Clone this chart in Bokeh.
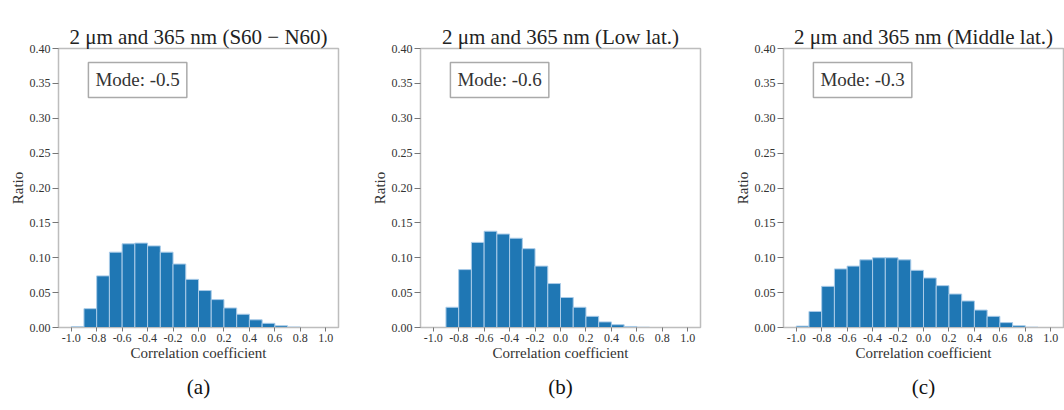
from bokeh.plotting import figure
from bokeh.layouts import row
from bokeh.models import Label, Title, FixedTicker, Range1d
from bokeh.embed import file_html
from bokeh.resources import INLINE

bin_edges = [round(-1.0 + 0.1 * i, 1) for i in range(21)]

ratio_a = [0.001, 0.027, 0.074, 0.108, 0.120, 0.121, 0.117, 0.108, 0.091, 0.069,
           0.053, 0.040, 0.028, 0.019, 0.011, 0.006, 0.0025, 0.0007, 0.0, 0.0]
ratio_b = [0.0, 0.029, 0.083, 0.122, 0.138, 0.134, 0.128, 0.113, 0.088, 0.063,
           0.043, 0.029, 0.016, 0.008, 0.004, 0.0015, 0.0004, 0.0, 0.0, 0.0]
ratio_c = [0.002, 0.023, 0.059, 0.084, 0.088, 0.097, 0.100, 0.100, 0.097, 0.082,
           0.071, 0.060, 0.048, 0.038, 0.025, 0.016, 0.007, 0.0025, 0.0005, 0.0]

titles = ["2 \u03bcm and 365 nm (S60 \u2212 N60)",
          "2 \u03bcm and 365 nm (Low lat.)",
          "2 \u03bcm and 365 nm (Middle lat.)"]
modes = ["Mode: -0.5", "Mode: -0.6", "Mode: -0.3"]
captions = ["(a)", "(b)", "(c)"]
x_ticks = [round(-1.0 + 0.2 * i, 1) for i in range(11)]
y_ticks = [round(0.05 * i, 2) for i in range(9)]

SERIF = "Liberation Serif"
borders = [(58, 29), (53, 30), (53, 1)]


def make(i, vals):
    L, R = borders[i]
    p = figure(frame_width=280, frame_height=279, min_border_left=L,
               min_border_right=R, min_border_top=48, min_border_bottom=83,
               x_range=Range1d(-1.1, 1.1), y_range=Range1d(0, 0.40),
               output_backend="svg", toolbar_location=None,
               background_fill_color="white", border_fill_color="white")
    p.title.text = titles[i]
    p.title.align = "center"
    p.title.text_font = SERIF
    p.title.text_font_size = "21px"
    p.title.text_font_style = "normal"
    p.title.text_color = "#222222"
    p.title.standoff = 0
    p.quad(left=bin_edges[:-1], right=bin_edges[1:], bottom=0, top=vals,
           fill_color="#1f77b4", line_color="#a9cbe8", line_width=1)
    p.grid.visible = False
    p.outline_line_color = "#bdbdbd"
    p.outline_line_width = 1.5
    for ax in (p.xaxis[0], p.yaxis[0]):
        ax.axis_line_color = "#bdbdbd"
        ax.major_tick_line_color = "#777777"
        ax.minor_tick_line_color = None
        ax.major_tick_in = 0
        ax.major_label_text_font = SERIF
        ax.major_label_text_font_size = "12px"
        ax.major_label_text_color = "#333333"
        ax.axis_label_text_font = SERIF
        ax.axis_label_text_font_size = "15px"
        ax.axis_label_text_font_style = "normal"
        ax.axis_label_text_color = "#333333"
    p.xaxis.ticker = FixedTicker(ticks=x_ticks)
    p.xaxis.major_label_overrides = {t: f"{t:.1f}" for t in x_ticks}
    p.xaxis.major_tick_out = 4
    p.xaxis.major_label_standoff = 2
    p.xaxis.axis_label = "Correlation coefficient"
    p.xaxis.axis_label_standoff = 0
    p.yaxis.ticker = FixedTicker(ticks=y_ticks)
    p.yaxis.major_label_overrides = {t: f"{t:.2f}" for t in y_ticks}
    p.yaxis.major_tick_out = 6
    p.yaxis.major_label_standoff = 2
    p.yaxis.axis_label = "Ratio"
    p.yaxis.axis_label_standoff = 1
    p.add_layout(Label(x=-0.865, y=0.38, text=modes[i], anchor="top_left",
                       text_font=SERIF, text_font_size="19px", text_color="#333333",
                       padding=7, border_line_color="#aaaaaa", border_line_width=1.5,
                       background_fill_color="white"))
    cap = Title(text=captions[i], align="center", text_font=SERIF,
                text_font_size="21px", text_font_style="normal",
                text_color="#111111", standoff=19)
    p.add_layout(cap, "below")
    return p


figs = [make(i, v) for i, v in enumerate([ratio_a, ratio_b, ratio_c])]
layout = row(*figs, spacing=0)
open("out.html", "w").write(file_html(layout, INLINE))
